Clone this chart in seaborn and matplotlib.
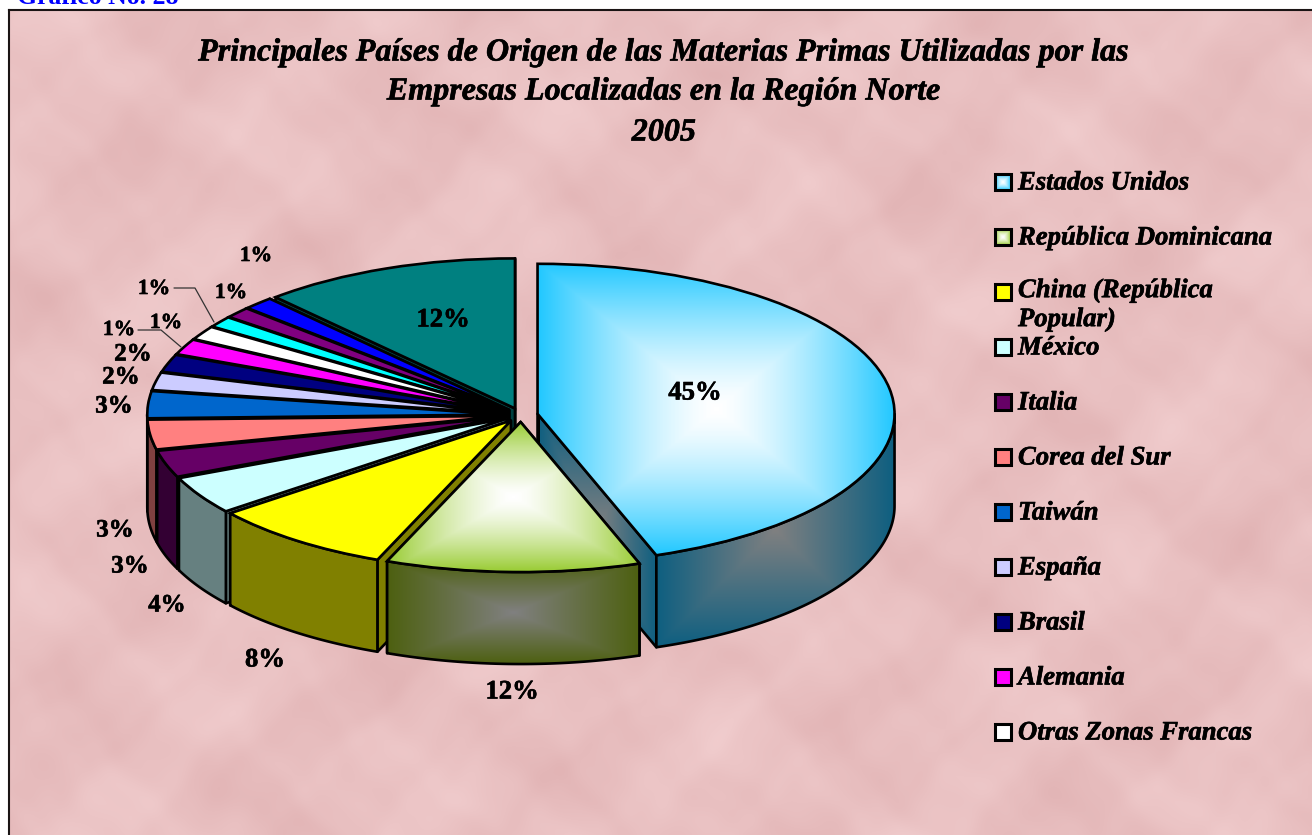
import numpy as np
import matplotlib
matplotlib.use("Agg")
import matplotlib.pyplot as plt
import matplotlib.patheffects as pe
from matplotlib.colors import LinearSegmentedColormap
from matplotlib.patches import Polygon, Rectangle
import seaborn as sns

# --- Data ---
slice_values = [44.6, 11.5, 8.3, 4.1, 2.9, 3.2, 2.9, 1.9, 1.9, 1.7, 1.5, 1.2, 1.2, 1.4, 11.7]
slice_labels = [45, 12, 8, 4, 3, 3, 3, 2, 2, 1, 1, 1, 1, 1, 12]
slice_colors = ["#33ccff", "#99cc33", "#ffff00", "#ccffff", "#660066", "#ff8080", "#0066cc",
                "#ccccff", "#000080", "#ff00ff", "#ffffff", "#00ffff", "#800080", "#0000ff", "#008080"]
legend_names = ["Estados Unidos", "República Dominicana", "China (República\nPopular)", "México",
                "Italia", "Corea del Sur", "Taiwán", "España", "Brasil", "Alemania",
                "Otras Zonas Francas"]
title_lines = ["Principales Países de Origen de las Materias Primas Utilizadas por las",
               "Empresas Localizadas en la Región Norte", "2005"]

# where the % labels sit, in picture pixels
label_xy = [(695, 393), (512, 692), (265, 660), (167, 605), (130, 566), (115, 530), (114, 406),
            (121, 377), (133, 354), (119, 330), (166, 323), (154, 289), (231, 293), (256, 256), (443, 320)]
label_size = [19.2, 19.2, 19.2, 18, 18, 18, 18, 18, 18, 15.5, 15.5, 15.5, 15.5, 15.5, 19.2]

W, H = 1312, 835
CX, CY = 521, 415      # pie centre, pixels
RX, RY = 357, 150      # pixels per data unit
DEPTH = 92 / RY        # wall height in data units
EXPLODE = 0.047
LW = 1.9

sns.set_theme(style="white")
plt.rcParams["font.family"] = ["Liberation Serif", "DejaVu Serif"]

fig = plt.figure(figsize=(W / 100, H / 100), dpi=100, facecolor="white")
heavy = [pe.withStroke(linewidth=0.45, foreground="black")]

# --- Marble background ---
ax_bg = fig.add_axes([9 / W, 0, 1 - 9 / W, 1 - 10 / H], zorder=0)
yy, xx = np.mgrid[0:825, 0:1303]
warp_x = xx + 9 * np.sin(yy / 37.0) + 6 * np.sin((xx + yy) / 19.0)
warp_y = yy + 9 * np.cos(xx / 41.0) + 6 * np.sin((xx - yy) / 23.0)
tex = (np.sin(warp_x / 27.0) * np.cos(warp_y / 19.0)
       + 0.8 * np.sin((warp_x + 0.6 * warp_y) / 43.0)
       + 0.6 * np.cos((warp_x - 2 * warp_y) / 61.0)
       + 0.35 * np.sin(warp_x / 8.3) * np.sin(warp_y / 9.1))
tex = tex / np.abs(tex).max()
base = np.array([233, 192, 193]) / 255.0
img = base[None, None, :] + tex[:, :, None] * np.array([0.03, 0.05, 0.05])
ax_bg.imshow(np.clip(img, 0, 1), aspect="auto", interpolation="bilinear")
ax_bg.set_xticks([])
ax_bg.set_yticks([])
for side in ["right", "bottom"]:
    ax_bg.spines[side].set_visible(False)
for side in ["left", "top"]:
    ax_bg.spines[side].set_visible(True)
    ax_bg.spines[side].set_color("#1a1414")
    ax_bg.spines[side].set_linewidth(1.5)

# --- Pie ---
ax = fig.add_axes([0, 0, 1, 1], zorder=1)
ax.patch.set_alpha(0)
wedges, _ = ax.pie(slice_values, colors=slice_colors, startangle=90, counterclock=False,
                   explode=[EXPLODE] * len(slice_values),
                   wedgeprops={"edgecolor": "black", "linewidth": LW})
ax.set_aspect("auto")
ax.set_frame_on(False)
xlim = (-CX / RX, (W - CX) / RX)
ylim = ((CY - H) / RY, CY / RY)


def darken(color):
    return tuple(c * 0.5 for c in matplotlib.colors.to_rgb(color))


def rect_gradient(target, x0, x1, y0, y1, center, edge, z, clip, power=1.0):
    # box shaped gradient, center colour in the middle of the box
    cmap = LinearSegmentedColormap.from_list("g", [center, edge])
    v, u = np.mgrid[-1:1:300j, -1:1:300j]
    d = np.maximum(np.abs(u), np.abs(v)) ** power
    im = target.imshow(d, cmap=cmap, vmin=0, vmax=1, extent=(x0, x1, y0, y1),
                       aspect="auto", origin="lower", zorder=z, interpolation="bilinear")
    im.set_clip_path(clip)
    return im


# style for the two shaded slices: (top centre, top edge, side centre, side edge)
shaded = {0: ("#ffffff", "#22c8ff", "#808080", "#0e5f80"),
          1: ("#ffffff", "#99cc33", "#808080", "#4d6010")}

# back slices first, so the front ones cover them
paint_order = list(range(len(wedges) - 1, 1, -1)) + [0, 1]
for rank, i in enumerate(paint_order):
    w = wedges[i]
    cx, cy = w.center
    z = 2 + rank
    t = np.radians(np.linspace(w.theta1, w.theta2, 240))
    arc_x = cx + np.cos(t)
    arc_y = cy + np.sin(t)
    shade = shaded.get(i)
    side_color = darken(slice_colors[i])

    # flat cut faces of the exploded slice
    for ax_, ay_ in [(arc_x[0], arc_y[0]), (arc_x[-1], arc_y[-1])]:
        f = np.array([(cx, cy), (ax_, ay_), (ax_, ay_ - DEPTH), (cx, cy - DEPTH)])
        p = Polygon(f, closed=True, facecolor="none" if shade else side_color,
                    edgecolor="black", linewidth=LW, zorder=z + 0.2, joinstyle="round")
        ax.add_patch(p)
        if shade:
            rect_gradient(ax, f[:, 0].min(), f[:, 0].max(), f[:, 1].min(), f[:, 1].max(),
                          shade[2], shade[3], z + 0.1, p)

    # outer wall, only the part of the rim facing the viewer
    front = np.sin(t) <= 0
    if front.sum() > 1:
        fx, fy = arc_x[front], arc_y[front]
        wall = np.vstack([np.column_stack([fx, fy]),
                          np.column_stack([fx[::-1], fy[::-1] - DEPTH])])
        p = Polygon(wall, closed=True, facecolor="none" if shade else side_color,
                    edgecolor="black", linewidth=LW, zorder=z + 0.4, joinstyle="round")
        ax.add_patch(p)
        if shade:
            rect_gradient(ax, wall[:, 0].min(), wall[:, 0].max(), wall[:, 1].min(), wall[:, 1].max(),
                          shade[2], shade[3], z + 0.3, p)

    if shade:
        w.set_facecolor("none")
        top_x = np.append(arc_x, cx)
        top_y = np.append(arc_y, cy)
        rect_gradient(ax, top_x.min(), top_x.max(), top_y.min(), top_y.max(),
                      shade[0], shade[1], z + 0.5, w, power=1.4)
    w.set_zorder(z + 0.6)

ax.set_xlim(*xlim)
ax.set_ylim(*ylim)

# --- Text layer in picture pixels ---
ax_txt = fig.add_axes([0, 0, 1, 1], zorder=5)
ax_txt.patch.set_alpha(0)
ax_txt.axis("off")

ax_txt.text(17, -2, "Gráfico No. 28", color="#0000ff", fontsize=18.5, fontweight="bold",
            ha="left", va="center")

for line, y in zip(title_lines, [53, 92, 133]):
    ax_txt.text(664, y, line, fontsize=23.1, fontweight="bold", fontstyle="italic",
                ha="center", va="center", color="black", path_effects=heavy)

for v, (x, y), fs in zip(slice_labels, label_xy, label_size):
    ax_txt.text(x, y, f"{v}%", fontsize=fs, fontweight="bold", ha="center", va="center",
                color="black", path_effects=heavy)

# leader lines of the small slices
ax_txt.plot([138, 161, 181], [330, 330, 347], color="#333333", lw=0.9, zorder=6)
ax_txt.plot([174, 195, 214], [288, 288, 322], color="#333333", lw=0.9, zorder=6)

# --- Legend ---
for k, name in enumerate(legend_names):
    y = 182 + 55 * k
    box = Rectangle((995, y - 8), 16, 16, facecolor=slice_colors[k],
                    edgecolor="black", linewidth=2.2, zorder=6)
    ax_txt.add_patch(box)
    if k in shaded:
        box.set_facecolor("none")
        rect_gradient(ax_txt, 995, 1011, y + 8, y - 8, shaded[k][0], shaded[k][1], 5.5, box, power=1.4)
    two_lines = "\n" in name
    ax_txt.text(1018, y - 14 if two_lines else y + 1, name, fontsize=19.2, fontweight="bold",
                fontstyle="italic", ha="left", va="top" if two_lines else "center",
                linespacing=1.2, color="black", path_effects=heavy)

ax_txt.set_xlim(0, W)
ax_txt.set_ylim(H, 0)

plt.savefig("out.png", dpi=100)
